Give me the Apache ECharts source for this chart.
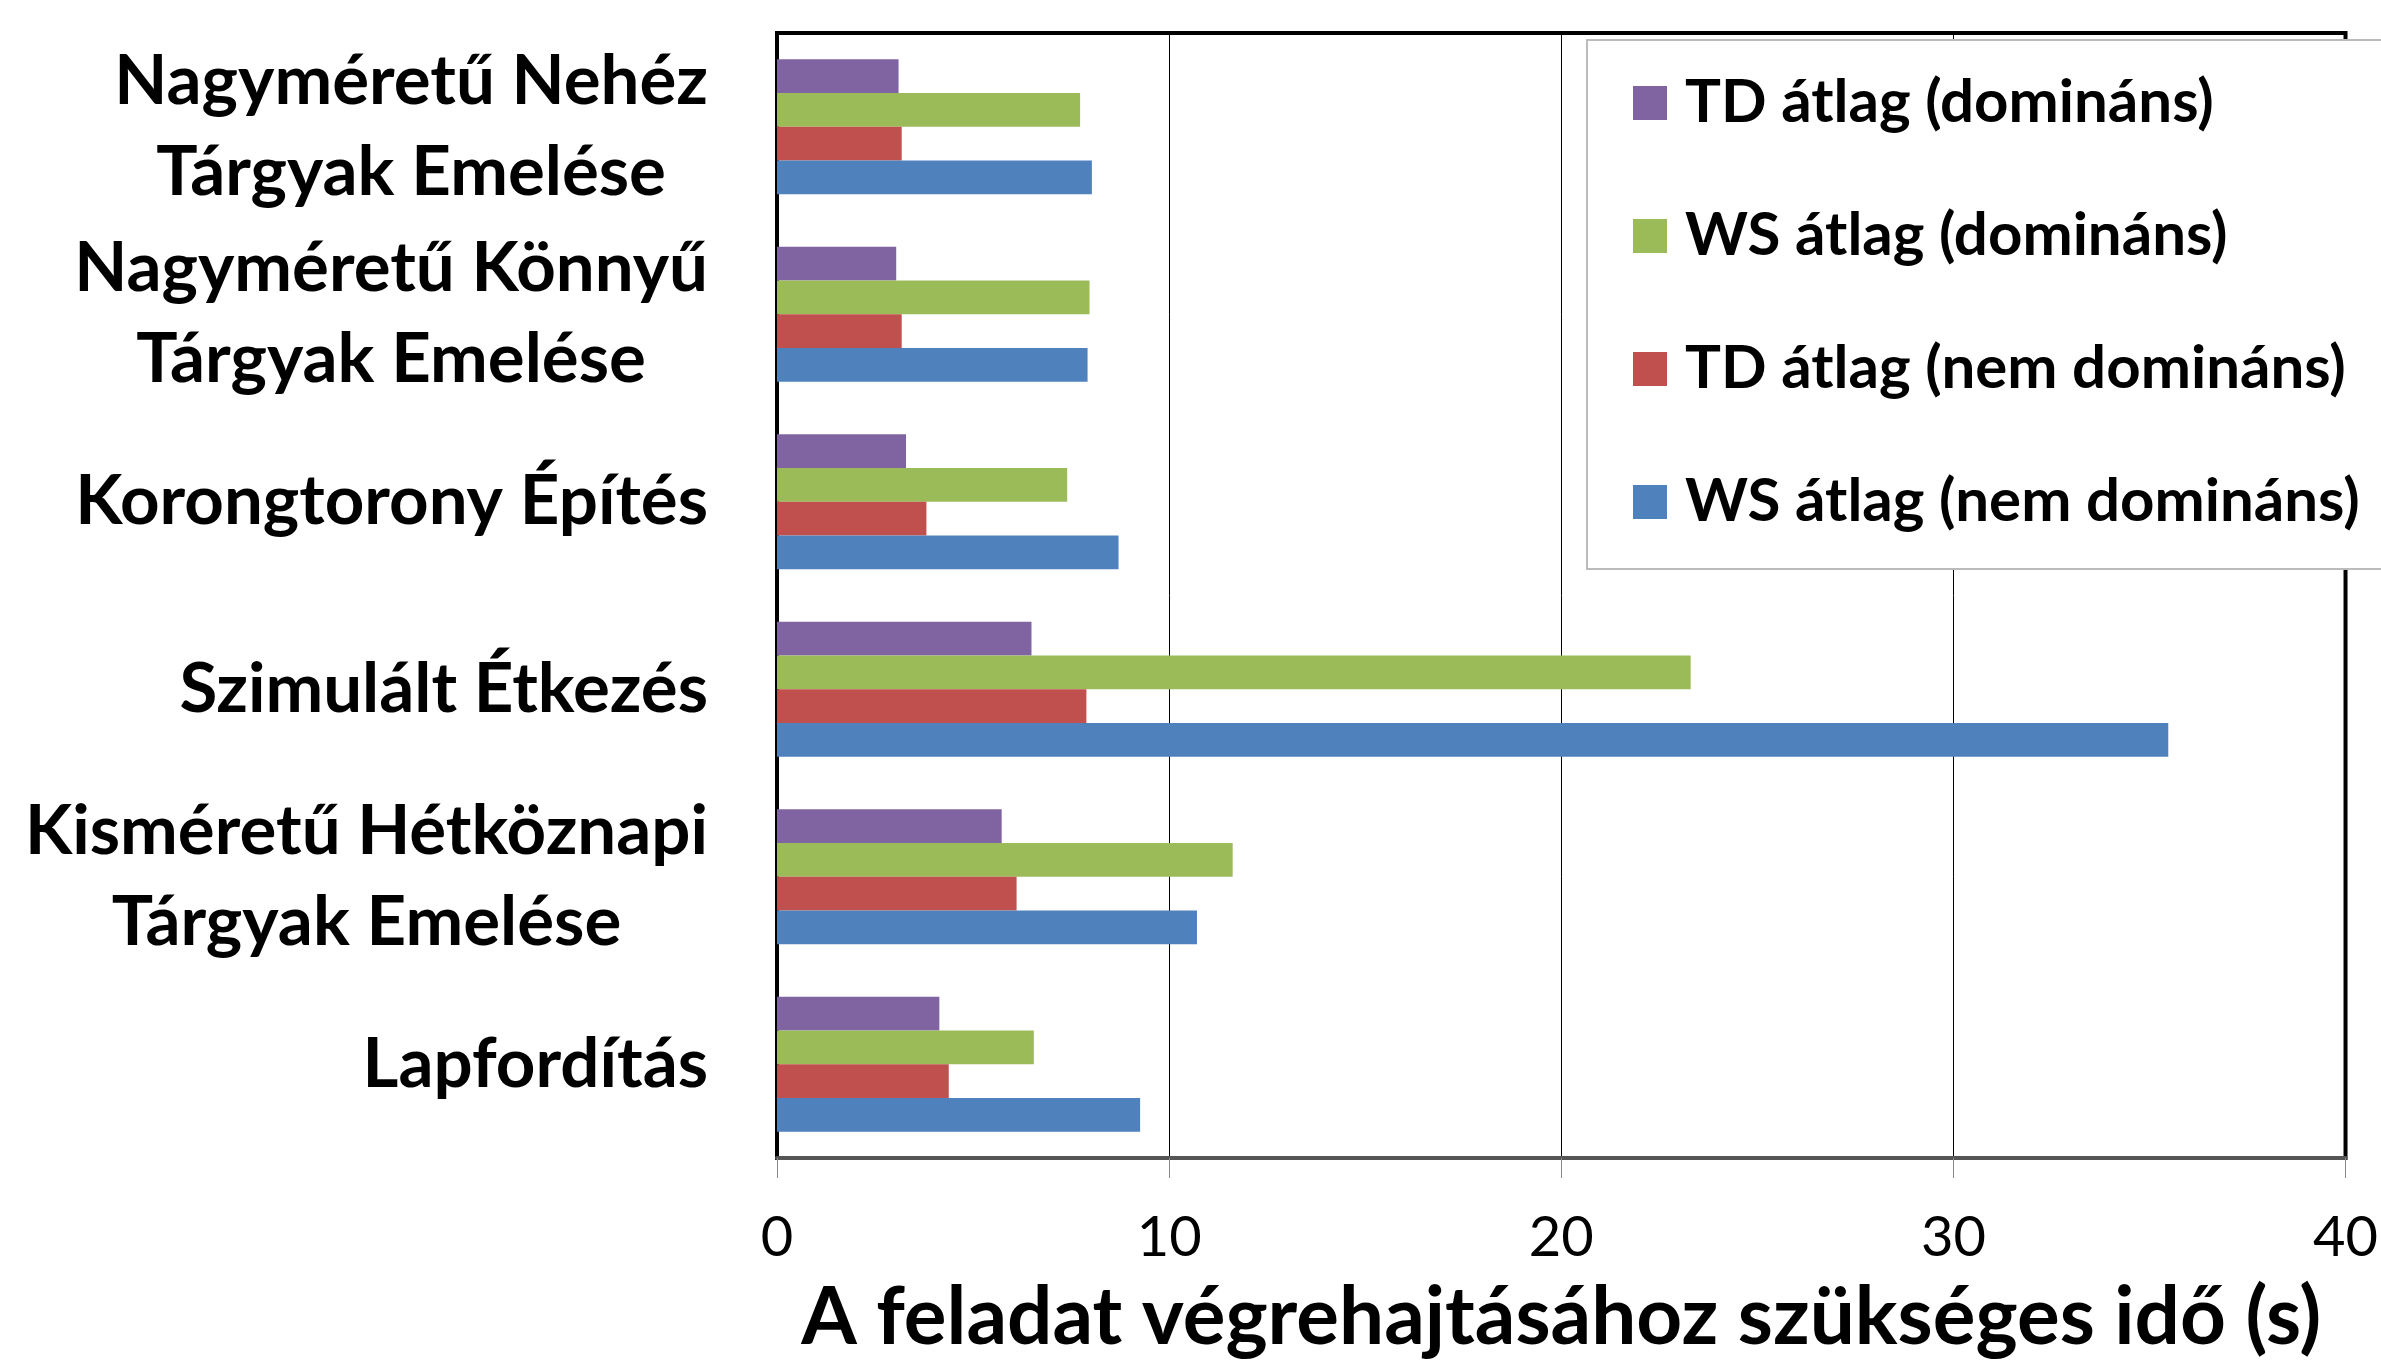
<!DOCTYPE html>
<html>
<head>
<meta charset="utf-8">
<script src="https://cdn.jsdelivr.net/npm/echarts@6/dist/echarts.min.js"></script>
<style>
  html, body { margin: 0; padding: 0; background: #fff; }
  #chart { width: 2381px; height: 1363px; }
</style>
</head>
<body>
<div id="chart"></div>
<script>
// kategóriák alulról felfelé (ECharts category y tengely)
var categories = [
  'Lapfordítás',
  'Kisméretű Hétköznapi\nTárgyak Emelése',
  'Szimulált Étkezés',
  'Korongtorony Építés',
  'Nagyméretű Könnyű\nTárgyak Emelése',
  'Nagyméretű Nehéz\nTárgyak Emelése'
];
var seriesNames = ['TD átlag (domináns)', 'WS átlag (domináns)', 'TD átlag (nem domináns)', 'WS átlag (nem domináns)'];
var tdDominans    = [4.14, 5.73, 6.49, 3.29, 3.04, 3.10];
var wsDominans    = [6.55, 11.62, 23.3, 7.40, 7.97, 7.73];
var tdNemDominans = [4.38, 6.11, 7.89, 3.81, 3.18, 3.18];
var wsNemDominans = [9.26, 10.71, 35.48, 8.71, 7.92, 8.03];
var colors = ['#8064A2', '#9BBB59', '#C0504D', '#4F81BD'];
var axisTitle = 'A feladat végrehajtásához szükséges idő (s)';

var font = 'Lato';
var values = [tdDominans, wsDominans, tdNemDominans, wsNemDominans];

var chart = echarts.init(document.getElementById('chart'));
var option = {
  animation: false,
  backgroundColor: '#fff',
  textStyle: { fontFamily: font },
  grid: {
    left: 777, right: 35, top: 33, bottom: 205,
    show: true, borderColor: '#000', borderWidth: 4
  },
  legend: {
    orient: 'vertical',
    left: 1587, top: 40,
    data: seriesNames,
    itemWidth: 34, itemHeight: 34,
    itemGap: 73,
    icon: 'rect',
    backgroundColor: '#fff',
    borderColor: '#bbb', borderWidth: 2, borderRadius: 0,
    padding: [33, 80, 37, 46],
    textStyle: { fontFamily: font, fontSize: 60, fontWeight: 'bold', color: '#000', lineHeight: 60, padding: [0, 0, 0, 13] }
  },
  xAxis: {
    type: 'value',
    min: 0, max: 40, interval: 10,
    axisLine: { show: true, lineStyle: { color: '#555', width: 4 } },
    axisTick: { show: true, length: 20, lineStyle: { color: '#888', width: 1 } },
    splitLine: { show: true, lineStyle: { color: '#000', width: 1 } },
    axisLabel: { fontFamily: font, fontSize: 56, color: '#000', margin: 52 },
    name: axisTitle,
    nameLocation: 'middle',
    nameGap: 120,
    nameTextStyle: { fontFamily: font, fontSize: 80, fontWeight: 'bold', color: '#000' }
  },
  yAxis: {
    type: 'category',
    data: categories,
    axisLine: { show: true, lineStyle: { color: '#000', width: 3 } },
    axisTick: { show: false },
    splitLine: { show: false },
    axisLabel: {
      margin: 69,
      align: 'right',
      formatter: function (v) {
        return v.split('\n').map(function (l) { return '{c|' + l + '}'; }).join('\n');
      },
      rich: {
        c: { fontFamily: font, fontSize: 69, fontWeight: 'bold', color: '#000', lineHeight: 91, align: 'center' }
      }
    }
  },
  series: seriesNames.map(function (name, i) {
    return {
      name: name,
      type: 'bar',
      data: values[i],
      barGap: '0%',
      barCategoryGap: '28%',
      itemStyle: { color: colors[i] }
    };
  })
};
chart.setOption(option);
</script>
</body>
</html>
